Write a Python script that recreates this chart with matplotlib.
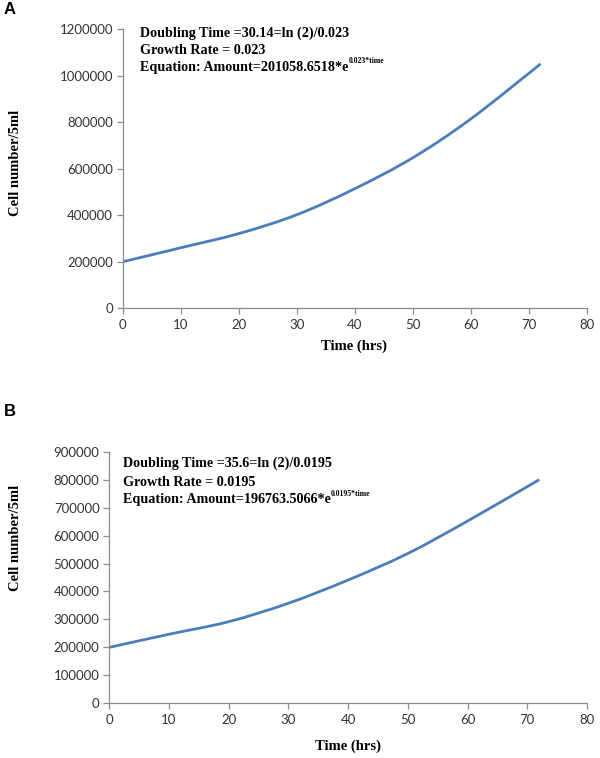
import matplotlib
matplotlib.use("Agg")
import matplotlib.pyplot as plt
from matplotlib.path import Path
from matplotlib.patches import PathPatch

# Panel A data
time_a = [0, 10, 20, 30, 40, 50, 60, 72]
cells_a = [200000, 260000, 321000, 402000, 514000, 647000, 814000, 1050000]
yticks_a = [0, 200000, 400000, 600000, 800000, 1000000, 1200000]
text_a = ["Doubling Time =30.14=ln (2)/0.023", "Growth Rate = 0.023",
          "Equation: Amount=201058.6518*e"]
sup_a = "0.023*time"

# Panel B data
time_b = [0, 10, 20, 30, 40, 50, 60, 72]
cells_b = [200000, 247000, 292000, 358000, 441000, 536000, 652000, 800000]
yticks_b = [0, 100000, 200000, 300000, 400000, 500000, 600000, 700000, 800000, 900000]
text_b = ["Doubling Time =35.6=ln (2)/0.0195", "Growth Rate = 0.0195",
          "Equation: Amount=196763.5066*e"]
sup_b = "0.0195*time"

xticks = [0, 10, 20, 30, 40, 50, 60, 70, 80]

W, H = 600, 758
fig = plt.figure(figsize=(W / 100, H / 100), dpi=100)

axis_gray = "#8c8c8c"
line_blue = "#4a7ebb"
tick_font = "Lato"
serif = "Liberation Serif"


def px(x, y):
    return x / W, 1 - y / H


def smooth_path(xs, ys):
    """Excel-style smoothed line: cubic Bezier segments through the data points."""
    pts = list(zip(xs, ys))
    n = len(pts)
    verts = [pts[0]]
    codes = [Path.MOVETO]
    for i in range(n - 1):
        p0 = pts[i - 1] if i > 0 else pts[i]
        p1 = pts[i]
        p2 = pts[i + 1]
        p3 = pts[i + 2] if i + 2 < n else pts[i + 1]
        c1 = (p1[0] + (p2[0] - p0[0]) / 6, p1[1] + (p2[1] - p0[1]) / 6)
        c2 = (p2[0] - (p3[0] - p1[0]) / 6, p2[1] - (p3[1] - p1[1]) / 6)
        verts += [c1, c2, p2]
        codes += [Path.CURVE4] * 3
    return Path(verts, codes)


def make_ax(left, top, right, bottom, t, c, yt, texts, sup, text_x, text_ys, fs):
    ax = fig.add_axes([left / W, 1 - bottom / H, (right - left) / W, (bottom - top) / H])
    ax.add_patch(PathPatch(smooth_path(t, c), facecolor="none", edgecolor=line_blue,
                           lw=2.0, capstyle="butt"))
    ax.set_xlim(0, 80)
    ax.set_ylim(0, yt[-1])
    ax.set_xticks(xticks)
    ax.set_yticks(yt)
    ax.set_yticklabels([str(v) for v in yt])
    for s in ["top", "right"]:
        ax.spines[s].set_visible(False)
    for s in ["left", "bottom"]:
        ax.spines[s].set_color(axis_gray)
        ax.spines[s].set_linewidth(0.9)
    ax.tick_params(axis="both", colors=axis_gray, length=4, width=0.9,
                   labelcolor="#333333", labelsize=9.5)
    ax.tick_params(axis="x", pad=4)
    ax.tick_params(axis="y", pad=3)
    for lab in ax.get_xticklabels() + ax.get_yticklabels():
        lab.set_fontfamily(tick_font)
    ax.set_facecolor("none")
    last = None
    for s, yy in zip(texts, text_ys):
        last = fig.text(text_x / W, 1 - yy / H, s, fontfamily=serif, fontweight="bold",
                        fontsize=fs, va="center", ha="left", color="black")
    fig.canvas.draw()
    ax.annotate(sup, xy=(1.0, 0.62), xycoords=last, fontfamily=serif, fontweight="bold",
                fontsize=fs * 0.55, va="bottom", ha="left", color="black")
    return ax


axA = make_ax(122.7, 29, 587, 308.3, time_a, cells_a, yticks_a, text_a, sup_a,
              140.5, [33, 50, 67], 10.2)
axB = make_ax(109.3, 451.7, 587, 703.3, time_b, cells_b, yticks_b, text_b, sup_b,
              123, [463, 482, 500], 10.2)

fig.text(*px(16, 163), "Cell number/5ml", rotation=90, fontfamily=serif, fontweight="bold",
         fontsize=10.5, ha="center", va="center")
fig.text(*px(16, 538), "Cell number/5ml", rotation=90, fontfamily=serif, fontweight="bold",
         fontsize=10.5, ha="center", va="center")
fig.text(*px(354, 346), "Time (hrs)", fontfamily=serif, fontweight="bold",
         fontsize=10.5, ha="center", va="center")
fig.text(*px(348, 746), "Time (hrs)", fontfamily=serif, fontweight="bold",
         fontsize=10.5, ha="center", va="center")

fig.text(*px(4, 10), "A", fontfamily="Liberation Sans", fontweight="bold", fontsize=12,
         ha="left", va="center")
fig.text(*px(4, 411), "B", fontfamily="Liberation Sans", fontweight="bold", fontsize=12,
         ha="left", va="center")

fig.savefig("out.png", dpi=100)
